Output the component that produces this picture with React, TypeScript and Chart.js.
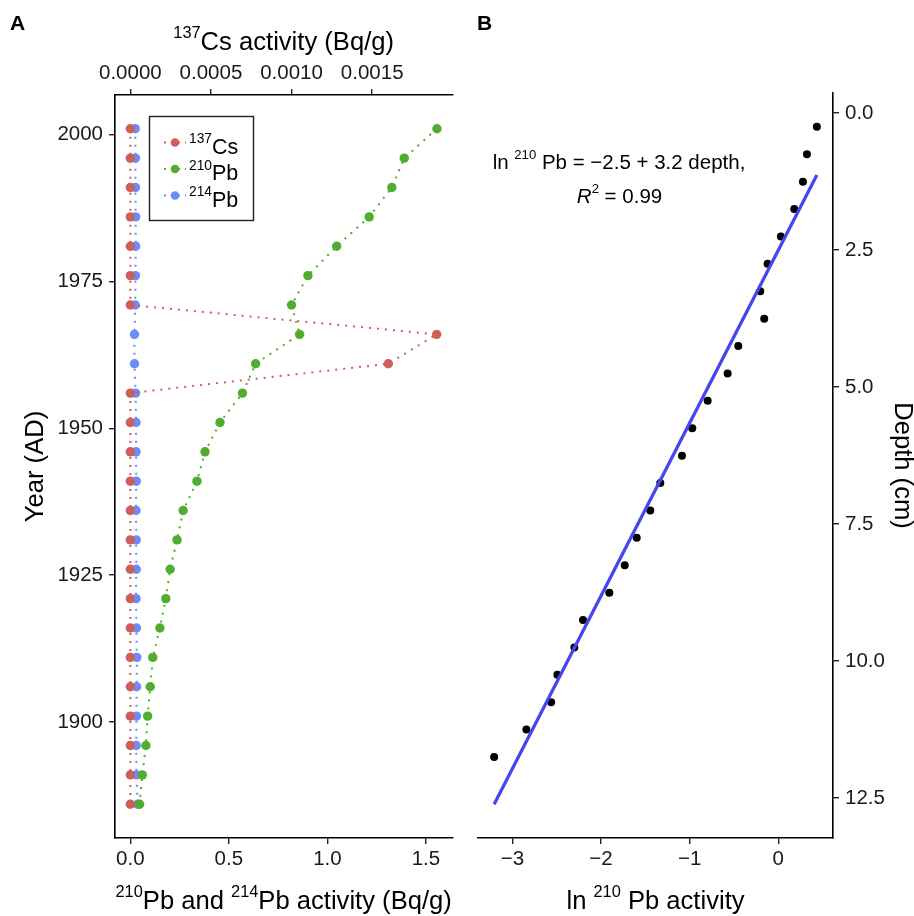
import React, { useEffect, useRef } from "react";
import { Chart, registerables } from "chart.js";

Chart.register(...registerables);

// ---------- Panel A data ----------
const YEARS = [2001, 1996, 1991, 1986, 1981, 1976, 1971, 1966, 1961, 1956, 1951, 1946, 1941, 1936, 1931, 1926, 1921, 1916, 1911, 1906, 1901, 1896, 1891, 1886];
const CS137 = [0, 0, 0, 0, 0, 0, 0, 0.0019, 0.0016, 0, 0, 0, 0, 0, 0, 0, 0, 0, 0, 0, 0, 0, 0, 0];
const PB210 = [1.556, 1.39, 1.327, 1.212, 1.047, 0.901, 0.818, 0.859, 0.636, 0.569, 0.455, 0.379, 0.338, 0.268, 0.237, 0.202, 0.18, 0.15, 0.114, 0.101, 0.088, 0.079, 0.061, 0.047];
const PB214 = [0.025, 0.026, 0.026, 0.027, 0.027, 0.026, 0.025, 0.021, 0.021, 0.027, 0.029, 0.029, 0.03, 0.029, 0.03, 0.03, 0.029, 0.031, 0.033, 0.032, 0.031, 0.03, 0.031, 0.037];
const YEAR_TICKS = [1900, 1925, 1950, 1975, 2000];
const PB_TICKS = [0, 0.5, 1.0, 1.5];
const CS_TICKS = [0, 0.0005, 0.001, 0.0015];
const CS_PER_PB_UNIT = 0.0012222; // secondary (top) axis scale factor

// ---------- Panel B data ----------
const DEPTH = [0.25, 0.75, 1.25, 1.75, 2.25, 2.75, 3.25, 3.75, 4.25, 4.75, 5.25, 5.75, 6.25, 6.75, 7.25, 7.75, 8.25, 8.75, 9.25, 9.75, 10.25, 10.75, 11.25, 11.75];
const LN_PB210 = [0.436, 0.324, 0.279, 0.181, 0.03, -0.12, -0.203, -0.158, -0.451, -0.571, -0.796, -0.97, -1.086, -1.331, -1.444, -1.597, -1.732, -1.906, -2.203, -2.301, -2.492, -2.563, -2.842, -3.206];
const FIT_LN = [-3.206, 0.436];
const FIT_DEPTH = [12.61, 1.13];
const DEPTH_TICKS = [0, 2.5, 5, 7.5, 10, 12.5];
const LN_TICKS = [-3, -2, -1, 0];

const RED = "#CD5F58";
const GREEN = "#50AD2E";
const BLUE = "#6B8CFB";
const FIT_BLUE = "#4646EE";

const FAMILY = '"Liberation Sans", Arial, sans-serif';
const TICK_FONT = { family: FAMILY, size: 20.5 };
const TICK_COLOR = "#1a1a1a";
const TITLE_SIZE = 25.6;

function expand(vals: number[]): [number, number] {
  const lo = Math.min(...vals);
  const hi = Math.max(...vals);
  const r = hi - lo;
  return [lo - 0.05 * r, hi + 0.05 * r];
}

type Part = { t: string; sup?: boolean; it?: boolean; bold?: boolean };

function fontFor(p: Part, size: number) {
  const s = p.sup ? size * 0.64 : size;
  return `${p.it ? "italic " : ""}${p.bold ? "bold " : ""}${s}px ${FAMILY}`;
}

function drawRich(ctx: CanvasRenderingContext2D, parts: Part[], x: number, y: number, size: number, align: "left" | "center" | "right" = "center", rot = 0, color = "#000") {
  ctx.save();
  ctx.translate(x, y);
  ctx.rotate(rot);
  ctx.textBaseline = "alphabetic";
  ctx.textAlign = "left";
  ctx.fillStyle = color;
  let w = 0;
  for (const p of parts) {
    ctx.font = fontFor(p, size);
    w += ctx.measureText(p.t).width;
  }
  let cx = align === "center" ? -w / 2 : align === "right" ? -w : 0;
  for (const p of parts) {
    ctx.font = fontFor(p, size);
    ctx.fillText(p.t, cx, p.sup ? -size * 0.48 : 0);
    cx += ctx.measureText(p.t).width;
  }
  ctx.restore();
}

function axisCommon(extra: any) {
  return {
    type: "linear",
    grid: { drawOnChartArea: false, drawTicks: true, tickLength: 6, color: "#222", lineWidth: 1.4 },
    border: { display: true, color: "#000", width: 1.6 },
    ...extra,
    ticks: { font: TICK_FONT, color: TICK_COLOR, autoSkip: false, maxRotation: 0, ...(extra.ticks || {}) },
  };
}

const textPluginA = {
  id: "textA",
  afterDraw(chart: any) {
    const ctx = chart.ctx as CanvasRenderingContext2D;
    const ca = chart.chartArea;
    const cxm = (ca.left + ca.right) / 2;
    const cym = (ca.top + ca.bottom) / 2;
    drawRich(ctx, [{ t: "A", bold: true }], 10, 30, 21, "left");
    drawRich(ctx, [{ t: "137", sup: true }, { t: "Cs activity (Bq/g)" }], cxm, 50, TITLE_SIZE);
    drawRich(ctx, [{ t: "210", sup: true }, { t: "Pb and " }, { t: "214", sup: true }, { t: "Pb activity (Bq/g)" }], cxm, 909, TITLE_SIZE);
    drawRich(ctx, [{ t: "Year (AD)" }], 43, cym, TITLE_SIZE, "center", -Math.PI / 2);

    // legend
    ctx.save();
    ctx.strokeStyle = "#222";
    ctx.lineWidth = 1.4;
    ctx.strokeRect(149.5, 116.5, 104, 104);
    const rows = [
      { c: RED, sup: "137", base: "Cs", y: 142.5 },
      { c: GREEN, sup: "210", base: "Pb", y: 169 },
      { c: BLUE, sup: "214", base: "Pb", y: 195.5 },
    ];
    for (const r of rows) {
      ctx.strokeStyle = r.c;
      ctx.lineWidth = 2;
      ctx.setLineDash([2, 5]);
      ctx.beginPath();
      ctx.moveTo(164, r.y);
      ctx.lineTo(186, r.y);
      ctx.stroke();
      ctx.setLineDash([]);
      ctx.fillStyle = r.c;
      ctx.beginPath();
      ctx.arc(175, r.y, 4.3, 0, Math.PI * 2);
      ctx.fill();
      drawRich(ctx, [{ t: r.sup, sup: true }, { t: r.base }], 189, r.y + 11, 21.5, "left");
    }
    ctx.restore();
  },
};

const textPluginB = {
  id: "textB",
  afterDraw(chart: any) {
    const ctx = chart.ctx as CanvasRenderingContext2D;
    const ca = chart.chartArea;
    const cxm = (ca.left + ca.right) / 2;
    const cym = (ca.top + ca.bottom) / 2;
    drawRich(ctx, [{ t: "B", bold: true }], 20, 30, 21, "left");
    drawRich(ctx, [{ t: "ln " }, { t: "210", sup: true }, { t: " Pb activity" }], cxm, 909, TITLE_SIZE);
    drawRich(ctx, [{ t: "Depth (cm)" }], 438, cym, TITLE_SIZE, "center", Math.PI / 2);
    drawRich(ctx, [{ t: "ln " }, { t: "210", sup: true }, { t: " Pb = \u22122.5 + 3.2 depth," }], 162, 169, 20.5);
    drawRich(ctx, [{ t: "R", it: true }, { t: "2", sup: true }, { t: " = 0.99" }], 162.5, 203, 20.5);
  },
};

export default function App() {
  const refA = useRef<HTMLCanvasElement>(null);
  const refB = useRef<HTMLCanvasElement>(null);

  useEffect(() => {
    const [pbLo, pbHi] = expand([...PB210, ...PB214, ...CS137.map((v) => v / CS_PER_PB_UNIT)]);
    const [yrLo, yrHi] = expand(YEARS);

    const chartA = new Chart(refA.current!, {
      type: "scatter",
      data: {
        datasets: [
          {
            label: "137Cs",
            data: YEARS.map((y, i) => ({ x: CS137[i], y })),
            xAxisID: "x2",
            yAxisID: "y",
            showLine: true,
            borderColor: RED,
            backgroundColor: RED,
            borderWidth: 2,
            borderDash: [2, 6],
            pointRadius: 4.7,
            pointBorderWidth: 0,
          },
          {
            label: "210Pb",
            data: YEARS.map((y, i) => ({ x: PB210[i], y })),
            xAxisID: "x",
            yAxisID: "y",
            showLine: true,
            borderColor: GREEN,
            backgroundColor: GREEN,
            borderWidth: 2,
            borderDash: [2, 6],
            pointRadius: 4.7,
            pointBorderWidth: 0,
          },
          {
            label: "214Pb",
            data: YEARS.map((y, i) => ({ x: PB214[i], y })),
            xAxisID: "x",
            yAxisID: "y",
            showLine: true,
            borderColor: BLUE,
            backgroundColor: BLUE,
            borderWidth: 2,
            borderDash: [2, 6],
            pointRadius: 4.7,
            pointBorderWidth: 0,
          },
        ],
      } as any,
      options: {
        responsive: false,
        animation: false,
        events: [],
        layout: { padding: { left: 0, right: 2, top: 0, bottom: 0 } },
        plugins: { legend: { display: false }, tooltip: { enabled: false } },
        scales: {
          x: axisCommon({
            position: "bottom",
            min: pbLo,
            max: pbHi,
            afterBuildTicks: (s: any) => { s.ticks = PB_TICKS.map((v) => ({ value: v })); },
            afterFit: (s: any) => { s.height = 78; },
            ticks: { padding: 3, callback: (v: any) => Number(v).toFixed(1) },
          }),
          x2: axisCommon({
            position: "top",
            min: pbLo * CS_PER_PB_UNIT,
            max: pbHi * CS_PER_PB_UNIT,
            afterBuildTicks: (s: any) => { s.ticks = CS_TICKS.map((v) => ({ value: v })); },
            afterFit: (s: any) => { s.height = 95; },
            ticks: { padding: 3, callback: (v: any) => Number(v).toFixed(4) },
          }),
          y: axisCommon({
            position: "left",
            min: yrLo,
            max: yrHi,
            afterBuildTicks: (s: any) => { s.ticks = YEAR_TICKS.map((v) => ({ value: v })); },
            afterFit: (s: any) => { s.width = 115; },
            ticks: { padding: 6, callback: (v: any) => String(v) },
          }),
        },
      } as any,
      plugins: [textPluginA],
    });

    const [lnLo, lnHi] = expand(LN_PB210);
    const [dLo, dHi] = expand([...DEPTH, ...FIT_DEPTH]);

    const chartB = new Chart(refB.current!, {
      type: "scatter",
      data: {
        datasets: [
          {
            label: "fit",
            data: FIT_LN.map((x, i) => ({ x, y: FIT_DEPTH[i] })),
            showLine: true,
            borderColor: FIT_BLUE,
            borderWidth: 3.3,
            pointRadius: 0,
          },
          {
            label: "ln 210Pb",
            data: LN_PB210.map((x, i) => ({ x, y: DEPTH[i] })),
            showLine: false,
            backgroundColor: "#000",
            borderColor: "#000",
            pointRadius: 4,
            pointBorderWidth: 0,
          },
        ],
      } as any,
      options: {
        responsive: false,
        animation: false,
        events: [],
        layout: { padding: { left: 21, right: 0, top: 93, bottom: 0 } },
        plugins: { legend: { display: false }, tooltip: { enabled: false } },
        scales: {
          x: axisCommon({
            position: "bottom",
            min: lnLo,
            max: lnHi,
            afterBuildTicks: (s: any) => { s.ticks = LN_TICKS.map((v) => ({ value: v })); },
            afterFit: (s: any) => { s.height = 78; },
            ticks: { padding: 3, callback: (v: any) => (Number(v) < 0 ? "\u2212" + Math.abs(Number(v)) : String(v)) },
          }),
          y: axisCommon({
            position: "right",
            reverse: true,
            min: dLo,
            max: dHi,
            afterBuildTicks: (s: any) => { s.ticks = DEPTH_TICKS.map((v) => ({ value: v })); },
            afterFit: (s: any) => { s.width = 81; },
            ticks: { padding: 6, callback: (v: any) => Number(v).toFixed(1) },
          }),
        },
      } as any,
      plugins: [textPluginB],
    });

    return () => {
      chartA.destroy();
      chartB.destroy();
    };
  }, []);

  return (
    <div style={{ position: "absolute", left: 0, top: 0, width: 914, height: 916, background: "#fff" }}>
      <canvas ref={refA} width={457} height={916} style={{ position: "absolute", left: 0, top: 0, width: 457, height: 916 }} />
      <canvas ref={refB} width={457} height={916} style={{ position: "absolute", left: 457, top: 0, width: 457, height: 916 }} />
    </div>
  );
}
